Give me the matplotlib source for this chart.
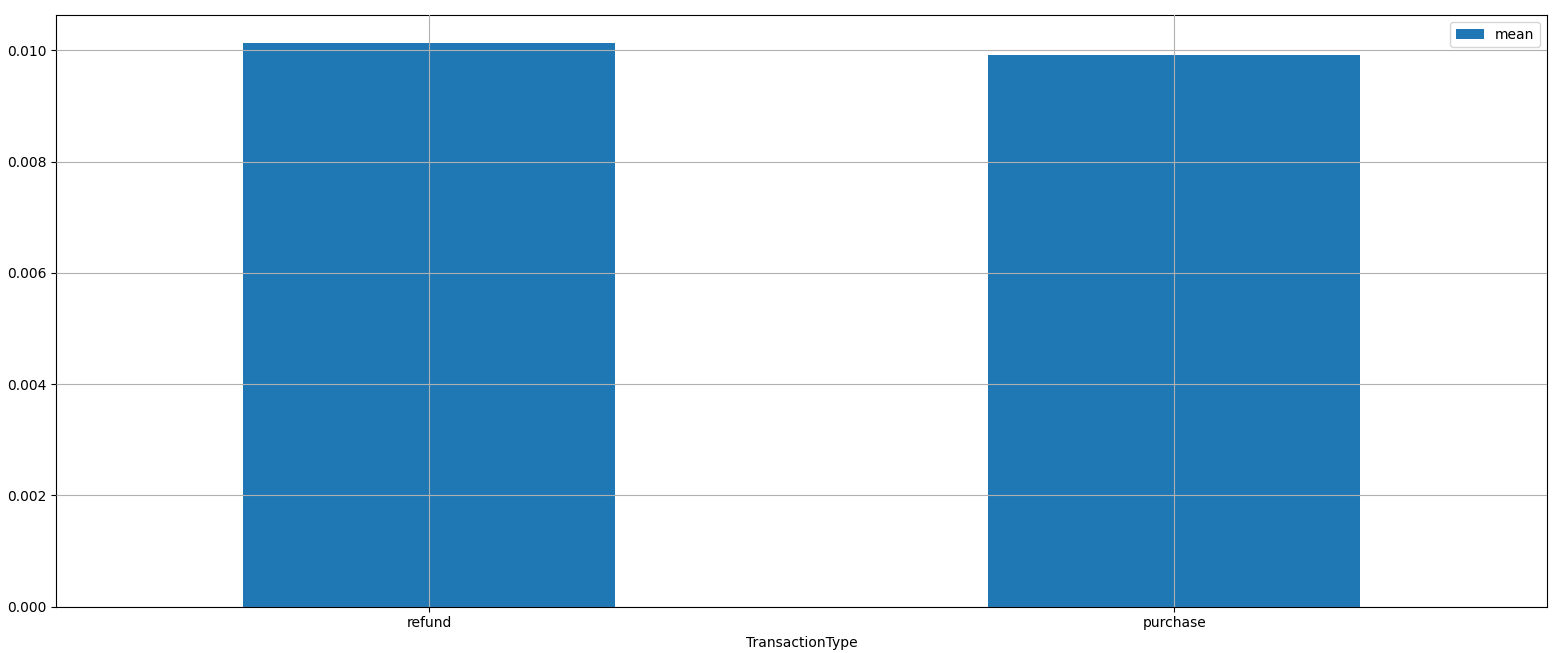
import matplotlib
matplotlib.use("Agg")
import matplotlib.pyplot as plt
import numpy as np

# mean fraud rate per transaction type
categories = ["refund", "purchase"]
mean_values = [0.010131, 0.009910]

fig = plt.figure(figsize=(15.6, 6.53), dpi=100)
ax = fig.add_axes([0.0362, 0.0712, 0.9553, 0.9058])

x = np.arange(len(categories))
ax.bar(x, mean_values, width=0.5, color="#1f77b4", label="mean")
ax.set_xticks(x)
ax.set_xticklabels(categories, rotation=0)
ax.set_xlim(-0.5, len(categories) - 0.5)
ax.set_xlabel("TransactionType")
ax.grid(True)
ax.set_axisbelow(False)
ax.legend(loc="upper right")

fig.savefig("out.png")
